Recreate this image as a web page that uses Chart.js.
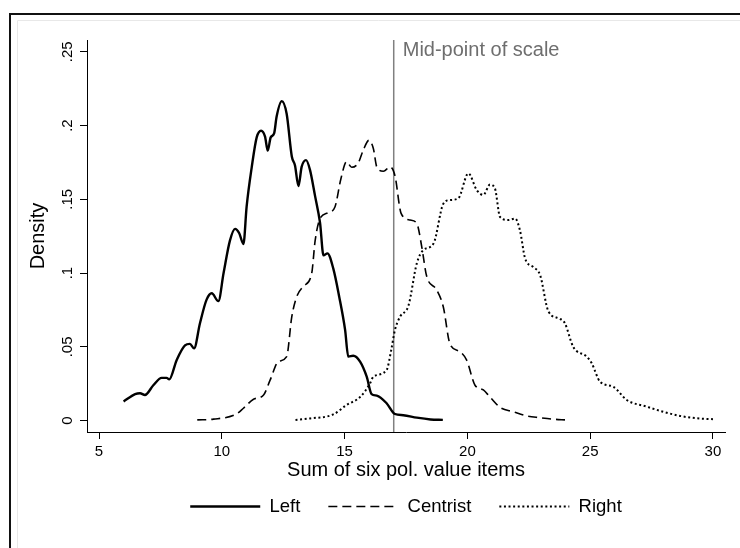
<!DOCTYPE html>
<html><head><meta charset="utf-8">
<script src="https://cdn.jsdelivr.net/npm/chart.js@4/dist/chart.umd.min.js"></script>
<style>html,body{margin:0;padding:0;background:#fff;}canvas{display:block;}</style>
</head><body>
<canvas id="c" width="740" height="548"></canvas>
<script>
// ---- data ----
const xTicks = [5, 10, 15, 20, 25, 30];
const yTicks = [0, 0.05, 0.1, 0.15, 0.2, 0.25];
const yTickLabels = ['0', '.05', '.1', '.15', '.2', '.25'];
const seriesNames = ['Left', 'Centrist', 'Right'];
const xTitle = 'Sum of six pol. value items';
const yTitle = 'Density';
const midPoint = 17;
const midLabel = 'Mid-point of scale';

const leftX = [6.0, 6.47, 6.67, 6.87, 7.21, 7.55, 7.75, 7.86, 8.16, 8.5, 8.7, 8.87, 9.11, 9.38, 9.59, 9.86, 10.07, 10.33, 10.54, 10.71, 10.88, 11.01, 11.22, 11.42, 11.6, 11.76, 11.87, 11.99, 12.13, 12.23, 12.44, 12.64, 12.85, 12.98, 13.12, 13.25, 13.43, 13.59, 13.8, 14.0, 14.14, 14.3, 14.54, 14.78, 15.02, 15.15, 15.35, 15.63, 15.9, 16.1, 16.31, 16.71, 17.05, 17.39, 17.94, 18.5, 19.0];
const leftY = [0.013, 0.018, 0.0186, 0.0174, 0.024, 0.029, 0.029, 0.028, 0.041, 0.051, 0.052, 0.049, 0.066, 0.082, 0.0863, 0.081, 0.0999, 0.122, 0.130, 0.127, 0.1197, 0.145, 0.172, 0.192, 0.1965, 0.1925, 0.183, 0.192, 0.1947, 0.206, 0.2166, 0.208, 0.179, 0.173, 0.159, 0.172, 0.1766, 0.170, 0.152, 0.134, 0.112, 0.1134, 0.103, 0.084, 0.0615, 0.0434, 0.044, 0.040, 0.0298, 0.018, 0.017, 0.0118, 0.0045, 0.0037, 0.002, 0.0008, 0.0005];

const centristX = [9.0, 9.66, 10.6, 10.88, 11.29, 11.7, 11.97, 12.3, 12.64, 12.85, 13.05, 13.32, 13.66, 13.8, 14.0, 14.34, 14.61, 14.85, 15.08, 15.29, 15.56, 15.76, 15.99, 16.17, 16.31, 16.58, 16.85, 17.05, 17.3, 17.66, 17.94, 18.14, 18.34, 18.75, 19.02, 19.29, 19.7, 19.97, 20.31, 20.65, 20.92, 21.33, 21.87, 22.41, 22.96, 23.5, 24.0];
const centristY = [0.0005, 0.001, 0.0045, 0.0084, 0.0145, 0.0174, 0.0276, 0.040, 0.0434, 0.0705, 0.084, 0.091, 0.0999, 0.122, 0.137, 0.141, 0.145, 0.164, 0.1755, 0.1717, 0.1748, 0.1834, 0.190, 0.1845, 0.172, 0.169, 0.172, 0.166, 0.1405, 0.136, 0.1337, 0.118, 0.098, 0.0886, 0.077, 0.052, 0.0467, 0.041, 0.024, 0.0208, 0.016, 0.009, 0.006, 0.0032, 0.002, 0.001, 0.0005];

const rightX = [13.0, 13.6, 14.54, 15.08, 15.63, 16.03, 16.17, 16.71, 16.9, 17.05, 17.26, 17.6, 17.94, 18.21, 18.62, 19.02, 19.29, 19.63, 20.04, 20.38, 20.65, 20.92, 21.12, 21.33, 21.67, 21.94, 22.14, 22.35, 22.69, 22.96, 23.3, 23.77, 23.97, 24.31, 24.86, 25.06, 25.4, 25.94, 26.49, 27.3, 27.98, 28.66, 29.34, 30.0];
const rightY = [0.0005, 0.0015, 0.0042, 0.0106, 0.016, 0.025, 0.0298, 0.0343, 0.048, 0.0615, 0.0705, 0.078, 0.1066, 0.1157, 0.120, 0.147, 0.1495, 0.1507, 0.1676, 0.1563, 0.153, 0.160, 0.1575, 0.138, 0.136, 0.137, 0.129, 0.110, 0.104, 0.0987, 0.074, 0.069, 0.066, 0.050, 0.0434, 0.039, 0.0264, 0.023, 0.014, 0.0095, 0.006, 0.0032, 0.0016, 0.001];

// ---- chart ----
const X_MIN = 4.51, X_MAX = 30.49, Y_MIN = -0.0077, Y_MAX = 0.258;
const FONT = "'Liberation Sans', Arial, Helvetica, sans-serif";
const pts = (xs, ys) => xs.map((x, i) => ({x: x, y: ys[i]}));

const framePlugin = {
  id: 'frame',
  beforeDraw(chart) {
    const ctx = chart.ctx;
    ctx.save();
    ctx.fillStyle = '#fff';
    ctx.fillRect(0, 0, chart.width, chart.height);
    ctx.strokeStyle = '#e8e8e8'; ctx.lineWidth = 1;
    ctx.beginPath(); ctx.moveTo(17.5, chart.height); ctx.lineTo(17.5, 20.5); ctx.lineTo(chart.width, 20.5); ctx.stroke();
    ctx.strokeStyle = '#111'; ctx.lineWidth = 2;
    ctx.beginPath(); ctx.moveTo(10, chart.height); ctx.lineTo(10, 14); ctx.lineTo(chart.width, 14); ctx.stroke();
    ctx.restore();
  },
  afterDatasetsDraw(chart) {
    const ctx = chart.ctx;
    const xs = chart.scales.x;
    ctx.save();
    ctx.fillStyle = '#6e6e6e';
    ctx.font = '20px ' + FONT;
    ctx.textBaseline = 'alphabetic';
    ctx.textAlign = 'left';
    ctx.fillText(midLabel, xs.getPixelForValue(midPoint) + 9, chart.chartArea.top + 15.7);
    ctx.restore();
  }
};

new Chart(document.getElementById('c'), {
  type: 'scatter',
  data: {
    datasets: [
      {label: seriesNames[0], data: pts(leftX, leftY), showLine: true, borderColor: '#000', borderWidth: 2.4, borderDash: [], pointRadius: 0, cubicInterpolationMode: 'monotone'},
      {label: seriesNames[1], data: pts(centristX, centristY), showLine: true, borderColor: '#000', borderWidth: 1.6, borderDash: [9, 5], pointRadius: 0, cubicInterpolationMode: 'monotone'},
      {label: seriesNames[2], data: pts(rightX, rightY), showLine: true, borderColor: '#000', borderWidth: 2, borderDash: [2, 2.6], pointRadius: 0, cubicInterpolationMode: 'monotone'},
      {label: '', data: [{x: midPoint, y: Y_MIN}, {x: midPoint, y: Y_MAX}], showLine: true, borderColor: '#808080', borderWidth: 1.5, pointRadius: 0}
    ]
  },
  options: {
    responsive: false, animation: false, devicePixelRatio: 1, events: [],
    layout: {padding: {top: 40, right: 15, left: 0, bottom: 22.25}},
    plugins: {
      tooltip: {enabled: false},
      legend: {
        position: 'bottom', fullSize: false,
        labels: {
          usePointStyle: true, pointStyleWidth: 70, padding: 28, color: '#000',
          font: {family: FONT, size: 18.5},
          generateLabels(chart) {
            return chart.data.datasets.map((ds, i) => ({
              text: ds.label, fillStyle: 'rgba(0,0,0,0)', strokeStyle: ds.borderColor,
              lineWidth: ds.borderWidth, lineDash: ds.borderDash || [], lineCap: 'butt',
              pointStyle: 'line', hidden: false, datasetIndex: i, fontColor: '#000'
            })).filter(it => seriesNames.includes(it.text));
          }
        }
      }
    },
    scales: {
      x: {
        type: 'linear', min: X_MIN, max: X_MAX,
        afterBuildTicks: s => { s.ticks = xTicks.map(v => ({value: v})); },
        afterFit: s => { s.height = 37.25; },
        ticks: {font: {family: FONT, size: 15}, color: '#000', padding: 4, maxRotation: 0, autoSkip: false, callback: v => String(v)},
        grid: {display: true, drawOnChartArea: false, drawTicks: true, tickLength: 7, color: '#000', lineWidth: 1},
        border: {display: true, color: '#000', width: 1},
        title: {display: true, text: xTitle, color: '#000', font: {family: FONT, size: 20}, padding: {top: 0, bottom: -12.75}}
      },
      y: {
        type: 'linear', min: Y_MIN, max: Y_MAX,
        afterBuildTicks: s => { s.ticks = yTicks.map(v => ({value: v})); },
        afterFit: s => { s.width = 87; },
        ticks: {font: {family: FONT, size: 15}, color: '#000', padding: 2, minRotation: 90, maxRotation: 90, crossAlign: 'center', autoSkip: false,
          callback: v => { const i = yTicks.findIndex(t => Math.abs(t - v) < 1e-9); return i >= 0 ? yTickLabels[i] : ''; }},
        grid: {display: true, drawOnChartArea: false, drawTicks: true, tickLength: 7, color: '#000', lineWidth: 1},
        border: {display: true, color: '#000', width: 1},
        title: {display: true, text: yTitle, color: '#000', font: {family: FONT, size: 20}, padding: {top: 26, bottom: 0}}
      }
    }
  },
  plugins: [framePlugin]
});
</script>
</body></html>
